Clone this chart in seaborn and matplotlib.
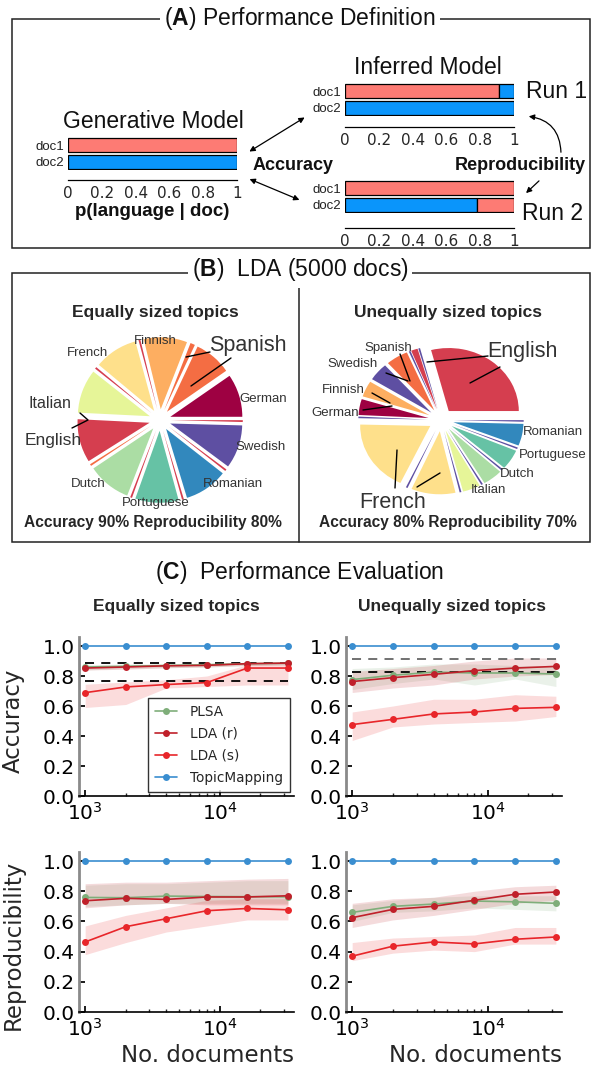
import numpy as np
import pandas as pd
import matplotlib
matplotlib.use("Agg")
import matplotlib.pyplot as plt
import seaborn as sns
from matplotlib.patches import Rectangle, FancyArrowPatch
from matplotlib.lines import Line2D

# ---------------- data ----------------
# Panel A: p(language | doc) segments (stacked left to right)
doc_names = ["doc1", "doc2"]
gen_doc1 = [1.0];          gen_doc1_lang = ["red"]
gen_doc2 = [1.0];          gen_doc2_lang = ["blue"]
run1_doc1 = [0.91, 0.09];  run1_doc1_lang = ["red", "blue"]
run1_doc2 = [1.0];         run1_doc2_lang = ["blue"]
run2_doc1 = [1.0];         run2_doc1_lang = ["red"]
run2_doc2 = [0.78, 0.22];  run2_doc2_lang = ["blue", "red"]
bar_ticks = [0, 0.2, 0.4, 0.6, 0.8, 1]
bar_tick_labels = ["0", "0.2", "0.4", "0.6", "0.8", "1"]

# Panel B: pies (counter-clockwise from 0 deg)
languages = ["German", "English", "Spanish", "Finnish", "French",
             "Italian", "Dutch", "Portuguese", "Romanian", "Swedish"]
eq_slices = ["German", "Spanish", "Spanish", "Finnish", "English", "French", "English",
             "Italian", "English", "Spanish", "Dutch", "English", "Portuguese", "English",
             "Romanian", "English", "Swedish", "English"]
eq_sizes = [9.2, 8.0, 1.0, 9.3, 0.4, 9.3, 0.4,
            9.4, 9.3, 0.4, 9.3, 0.4, 9.3, 0.4,
            9.3, 0.4, 9.3, 0.4]
uneq_slices = ["English", "Swedish", "English", "Swedish", "Spanish", "Swedish", "Finnish",
               "German", "Swedish", "French", "Swedish", "French", "Swedish", "Italian",
               "Swedish", "Dutch", "Swedish", "Portuguese", "Swedish", "Romanian", "Swedish"]
uneq_sizes = [28.5, 0.4, 1.5, 0.4, 5.0, 4.5, 4.0,
              4.0, 0.4, 18.0, 0.4, 10.0, 0.4, 4.0,
              0.4, 4.5, 0.4, 5.0, 0.4, 5.5, 0.4]

# Panel C: performance evaluation
n_docs = [1000, 2000, 4000, 8000, 16000, 32000]
methods = ["PLSA", "LDA (r)", "LDA (s)", "TopicMapping"]

acc_eq_plsa = [0.86, 0.865, 0.87, 0.875, 0.882, 0.885]
acc_eq_plsa_lo = [0.84, 0.85, 0.855, 0.86, 0.87, 0.875]
acc_eq_plsa_hi = [0.875, 0.88, 0.88, 0.885, 0.89, 0.895]
acc_eq_ldar = [0.853, 0.86, 0.868, 0.871, 0.882, 0.886]
acc_eq_ldar_lo = [0.84, 0.845, 0.855, 0.86, 0.87, 0.875]
acc_eq_ldar_hi = [0.865, 0.87, 0.875, 0.88, 0.89, 0.895]
acc_eq_ldas = [0.689, 0.727, 0.743, 0.756, 0.853, 0.853]
acc_eq_ldas_lo = [0.59, 0.61, 0.72, 0.73, 0.74, 0.74]
acc_eq_ldas_hi = [0.745, 0.76, 0.775, 0.80, 0.875, 0.88]
acc_eq_tm = [1.0, 1.0, 1.0, 1.0, 1.0, 1.0]
acc_eq_ref = [0.887, 0.767]

acc_un_plsa = [0.776, 0.805, 0.826, 0.82, 0.82, 0.813]
acc_un_plsa_lo = [0.71, 0.75, 0.78, 0.74, 0.78, 0.73]
acc_un_plsa_hi = [0.85, 0.86, 0.88, 0.88, 0.87, 0.87]
acc_un_ldar = [0.763, 0.789, 0.811, 0.836, 0.853, 0.864]
acc_un_ldar_lo = [0.69, 0.72, 0.74, 0.78, 0.80, 0.81]
acc_un_ldar_hi = [0.83, 0.85, 0.87, 0.90, 0.92, 0.92]
acc_un_ldas = [0.476, 0.511, 0.547, 0.56, 0.584, 0.591]
acc_un_ldas_lo = [0.37, 0.46, 0.48, 0.49, 0.50, 0.53]
acc_un_ldas_hi = [0.56, 0.60, 0.645, 0.645, 0.675, 0.665]
acc_un_tm = [1.0, 1.0, 1.0, 1.0, 1.0, 1.0]
acc_un_ref = [0.916, 0.825]

rep_eq_plsa = [0.759, 0.757, 0.768, 0.765, 0.764, 0.763]
rep_eq_plsa_lo = [0.70, 0.71, 0.72, 0.72, 0.72, 0.72]
rep_eq_plsa_hi = [0.84, 0.85, 0.85, 0.86, 0.87, 0.87]
rep_eq_ldar = [0.737, 0.753, 0.746, 0.762, 0.762, 0.77]
rep_eq_ldar_lo = [0.69, 0.71, 0.72, 0.71, 0.71, 0.71]
rep_eq_ldar_hi = [0.85, 0.86, 0.86, 0.87, 0.88, 0.885]
rep_eq_ldas = [0.464, 0.565, 0.618, 0.671, 0.686, 0.677]
rep_eq_ldas_lo = [0.38, 0.46, 0.53, 0.57, 0.61, 0.61]
rep_eq_ldas_hi = [0.57, 0.64, 0.69, 0.74, 0.75, 0.75]
rep_eq_tm = [1.0, 1.0, 1.0, 1.0, 1.0, 1.0]

rep_un_plsa = [0.66, 0.70, 0.715, 0.735, 0.73, 0.72]
rep_un_plsa_lo = [0.60, 0.66, 0.67, 0.69, 0.68, 0.67]
rep_un_plsa_hi = [0.71, 0.74, 0.76, 0.77, 0.77, 0.77]
rep_un_ldar = [0.625, 0.68, 0.70, 0.74, 0.78, 0.795]
rep_un_ldar_lo = [0.56, 0.61, 0.64, 0.68, 0.72, 0.74]
rep_un_ldar_hi = [0.72, 0.75, 0.76, 0.80, 0.83, 0.84]
rep_un_ldas = [0.37, 0.436, 0.464, 0.451, 0.482, 0.497]
rep_un_ldas_lo = [0.34, 0.39, 0.41, 0.40, 0.45, 0.45]
rep_un_ldas_hi = [0.46, 0.49, 0.50, 0.51, 0.56, 0.56]
rep_un_tm = [1.0, 1.0, 1.0, 1.0, 1.0, 1.0]

y_ticks = [0.0, 0.2, 0.4, 0.6, 0.8, 1.0]

# ---------------- style ----------------
sns.set_theme(style="white")
plt.rcParams['font.family'] = ['DejaVu Sans']
plt.rcParams['mathtext.fontset'] = 'custom'
plt.rcParams['mathtext.bf'] = 'Liberation Sans:bold'
plt.rcParams['mathtext.rm'] = 'Liberation Sans'
SANS = ['Liberation Sans', 'DejaVu Sans']

W, H = 600, 1069
fig = plt.figure(figsize=(6, 10.69), dpi=100)


def fx(x):
    return x / W


def fy(y):
    return 1 - y / H


def rect(x0, y0, x1, y1):
    return [x0 / W, 1 - y1 / H, (x1 - x0) / W, (y1 - y0) / H]


def ftext(x, y, s, **kw):
    kw.setdefault('family', SANS)
    kw.setdefault('ha', 'center')
    kw.setdefault('va', 'center')
    return fig.text(fx(x), fy(y), s, **kw)


def fline(pts, **kw):
    xs = [fx(p[0]) for p in pts]
    ys = [fy(p[1]) for p in pts]
    kw.setdefault('color', 'black')
    kw.setdefault('lw', 1.0)
    fig.add_artist(Line2D(xs, ys, transform=fig.transFigure, **kw))


def farrow(p0, p1, style='<|-|>', rad=0.0):
    a = FancyArrowPatch((fx(p0[0]), fy(p0[1])), (fx(p1[0]), fy(p1[1])),
                        transform=fig.transFigure, arrowstyle=style,
                        mutation_scale=8, lw=0.9, color='black',
                        connectionstyle=f"arc3,rad={rad}")
    fig.add_artist(a)


def panel_box(x0, y0, x1, y1, title_parts, ty):
    fig.add_artist(Rectangle((fx(x0), fy(y1)), (x1 - x0) / W, (y1 - y0) / H,
                             transform=fig.transFigure, fill=False,
                             ec='#222222', lw=1.1))
    ftext(300, ty, title_parts, fontsize=16.5, color='#111111',
          bbox=dict(fc='white', ec='none', pad=3))


# ---------------- Panel A ----------------
panel_box(12, 19, 590, 248, r"($\mathbf{A}$) Performance Definition", 18)

RED = "#fd7b74"
BLUE = "#0a95fb"
lang_color = {"red": RED, "blue": BLUE}


def bar_axes(r, docs_vals, docs_langs, axis_y_px, bottom_px):
    ax = fig.add_axes(r)
    for i, (vals, langs) in enumerate(zip(docs_vals, docs_langs)):
        left = 0.0
        for v, lg in zip(vals, langs):
            ax.barh(i, v, left=left, height=0.86, color=lang_color[lg],
                    edgecolor='black', linewidth=0.9)
            left += v
    ax.set_ylim(1.5, -0.5)
    ax.set_xlim(0, 1.0)
    ax.set_yticks([0, 1])
    ax.set_yticklabels(doc_names, fontsize=9.5, family=SANS, color='#222222')
    ax.tick_params(axis='y', length=0, pad=3)
    ax.set_xticks(bar_ticks)
    ax.set_xticklabels(bar_tick_labels, fontsize=7, family=SANS, color='#222222')
    ax.tick_params(axis='x', direction='inout', length=6, width=0.8, pad=1,
                   color='black')
    for s in ['top', 'right', 'left']:
        ax.spines[s].set_visible(False)
    ax.spines['bottom'].set_position(('outward', (axis_y_px - bottom_px) * 0.72))
    ax.spines['bottom'].set_linewidth(0.9)
    ax.spines['bottom'].set_color('black')
    ax.set_facecolor('none')
    ax.margins(x=0)
    return ax


bar_axes(rect(68, 137, 237, 170), [gen_doc1, gen_doc2], [gen_doc1_lang, gen_doc2_lang], 180, 170)
bar_axes(rect(345, 83, 514, 116), [run1_doc1, run1_doc2], [run1_doc1_lang, run1_doc2_lang], 127, 116)
bar_axes(rect(345, 180, 514, 213), [run2_doc1, run2_doc2], [run2_doc1_lang, run2_doc2_lang], 228, 213)

ftext(153, 121, "Generative Model", fontsize=16.5, color='#111111')
ftext(428, 67, "Inferred Model", fontsize=16.5, color='#111111')
ftext(557, 92, "Run 1", fontsize=16.5, color='#111111')
ftext(553, 213, "Run 2", fontsize=16.5, color='#111111')
ftext(152, 212, "p(language | doc)", fontsize=13.5, weight='bold', color='#111111')
ftext(293, 166, "Accuracy", fontsize=13, weight='bold', color='#111111')
ftext(520, 166, "Reproducibility", fontsize=13, weight='bold', color='#111111')

farrow((247, 153), (307, 116))
farrow((247, 178), (302, 201))
farrow((561, 155), (526, 116), style='-|>', rad=0.45)
farrow((541, 179), (524, 195), style='-|>')

# ---------------- Panel B ----------------
panel_box(12, 273, 590, 542, r"($\mathbf{B}$)  LDA (5000 docs)", 270)
fline([(299, 286), (299, 542)], color='#222222', lw=1.1)

spectral_hex = ["#9e0142", "#d53e4f", "#f46d43", "#fdae61", "#fee08b",
                "#e6f598", "#abdda4", "#66c2a5", "#3288bd", "#5e4fa2"]
pie_color = dict(zip(languages, sns.color_palette(spectral_hex)))

ftext(155, 313, "Equally sized topics", fontsize=12.5, weight='bold')
ftext(448, 313, "Unequally sized topics", fontsize=12.5, weight='bold')
ftext(153, 522, "Accuracy 90% Reproducibility 80%", fontsize=11.2, weight='bold')
ftext(448, 522, "Accuracy 80% Reproducibility 70%", fontsize=11.2, weight='bold')


def pie_axes(r, sizes, names, xr, yr, expl):
    ax = fig.add_axes(r)
    ax.pie(sizes, colors=[pie_color[n] for n in names], startangle=0,
           counterclock=True, explode=[expl] * len(sizes),
           wedgeprops=dict(linewidth=0))
    ax.set_aspect('auto')
    ax.set_xlim(-xr, xr)
    ax.set_ylim(-yr, yr)
    ax.axis('off')
    return ax


pie_axes(rect(70, 330, 250, 510), eq_sizes, eq_slices, 1.25, 1.25, 0.15)
pie_axes(rect(352, 340, 530, 500), uneq_sizes, uneq_slices, 1.27, 1.27, 0.18)

LBL = '#333333'
for name, x, y, fs in [("Finnish", 155, 341, 9.5), ("French", 88, 353, 9.5),
                       ("Spanish", 248, 345, 15.5), ("German", 263, 399, 9.5),
                       ("Italian", 50, 403, 11.5), ("English", 53, 440, 12.5),
                       ("Swedish", 261, 447, 9.5), ("Dutch", 88, 484, 9.5),
                       ("Romanian", 233, 484, 9.5), ("Portuguese", 156, 503, 9.5)]:
    ftext(x, y, name, fontsize=fs, color=LBL)
fline([(210, 352), (186, 357)])
fline([(231, 358), (191, 386)])
fline([(80, 413), (88, 420), (72, 428)])

for name, x, y, fs in [("Spanish", 388, 348, 9.5), ("Swedish", 353, 364, 9.5),
                       ("Finnish", 343, 390, 9.5), ("German", 335, 413, 9.5),
                       ("English", 522, 352, 15.5), ("Romanian", 553, 432, 9.5),
                       ("Portuguese", 553, 455, 9.5), ("Dutch", 517, 474, 9.5),
                       ("Italian", 488, 490, 9.5), ("French", 393, 502, 15.5)]:
    ftext(x, y, name, fontsize=fs, color=LBL)
fline([(488, 356), (427, 362)])
fline([(500, 367), (470, 383)])
fline([(400, 354), (410, 381)])
fline([(386, 373), (408, 381)])
fline([(372, 393), (390, 403)])
fline([(363, 410), (392, 406)])
fline([(397, 450), (395, 488)])
fline([(417, 487), (440, 473)])

# ---------------- Panel C ----------------
ftext(300, 573, r"($\mathbf{C}$)  Performance Evaluation", fontsize=16.5, color='#111111')
ftext(176, 607, "Equally sized topics", fontsize=12.5, weight='bold')
ftext(452, 607, "Unequally sized topics", fontsize=12.5, weight='bold')

mcolors = {"PLSA": "#7fae7a", "LDA (r)": "#c0202a", "LDA (s)": "#e8262a",
           "TopicMapping": "#3a8ed0"}


def perf_axes(r, series, bands, refs, refcols, ylabel, ylab_y, xlabel, legend):
    ax = fig.add_axes(r)
    rows = []
    for m, vals in zip(methods, series):
        for n, v in zip(n_docs, vals):
            rows.append({"n": n, "value": v, "method": m})
    df = pd.DataFrame(rows)
    for m, (lo, hi) in zip(methods[:3], bands):
        ax.fill_between(n_docs, lo, hi, color=mcolors[m], alpha=0.16, lw=0)
    for ref, col in zip(refs, refcols):
        ax.plot([n_docs[0], n_docs[-1]], [ref, ref], ls=(0, (5, 4)), color=col, lw=1.3)
    sns.lineplot(data=df, x="n", y="value", hue="method", hue_order=methods,
                 palette=mcolors, marker='o', markersize=5, markeredgewidth=0,
                 lw=1.2, ax=ax, legend=legend, errorbar=None)
    ax.set_xscale('log')
    ax.set_xlim(900, 35500)
    ax.set_ylim(0, 1.06)
    ax.set_yticks(y_ticks)
    ax.set_yticklabels([f"{t:.1f}" for t in y_ticks])
    ax.tick_params(axis='both', which='major', direction='in', length=4,
                   labelsize=14.5, pad=3, left=True, bottom=True, colors='black')
    ax.tick_params(axis='x', which='minor', direction='in', length=2.5, bottom=True)
    ax.tick_params(axis='x', which='major', pad=4)
    for s in ['top', 'right']:
        ax.spines[s].set_visible(False)
    ax.spines['left'].set_color('#8a8a8a')
    ax.spines['left'].set_linewidth(2.0)
    ax.spines['bottom'].set_color('black')
    ax.spines['bottom'].set_linewidth(1.2)
    ax.set_ylabel(ylabel, fontsize=16.5)
    ax.yaxis.set_label_coords(-0.25, ylab_y)
    ax.set_xlabel(xlabel, fontsize=16.5, loc='right', labelpad=3)
    if legend:
        ax.legend(loc='lower right', bbox_to_anchor=(1.0, 0.0), fontsize=9.8,
                  frameon=True, fancybox=False, edgecolor='black',
                  handlelength=1.6, handletextpad=1.0, borderpad=0.5,
                  labelspacing=0.6, borderaxespad=0.3)
        ax.get_legend().get_frame().set_linewidth(1.0)
    return ax


perf_axes(rect(79, 637, 294, 796),
          [acc_eq_plsa, acc_eq_ldar, acc_eq_ldas, acc_eq_tm],
          [(acc_eq_plsa_lo, acc_eq_plsa_hi), (acc_eq_ldar_lo, acc_eq_ldar_hi),
           (acc_eq_ldas_lo, acc_eq_ldas_hi)],
          acc_eq_ref, ['black', 'black'], "Accuracy", 0.47, "", True)
perf_axes(rect(346, 637, 562, 796),
          [acc_un_plsa, acc_un_ldar, acc_un_ldas, acc_un_tm],
          [(acc_un_plsa_lo, acc_un_plsa_hi), (acc_un_ldar_lo, acc_un_ldar_hi),
           (acc_un_ldas_lo, acc_un_ldas_hi)],
          acc_un_ref, ['#666666', 'black'], "", 0.47, "", False)
perf_axes(rect(79, 852, 294, 1012),
          [rep_eq_plsa, rep_eq_ldar, rep_eq_ldas, rep_eq_tm],
          [(rep_eq_plsa_lo, rep_eq_plsa_hi), (rep_eq_ldar_lo, rep_eq_ldar_hi),
           (rep_eq_ldas_lo, rep_eq_ldas_hi)],
          [], [], "Reproducibility", 0.42, "No. documents", False)
perf_axes(rect(346, 852, 562, 1012),
          [rep_un_plsa, rep_un_ldar, rep_un_ldas, rep_un_tm],
          [(rep_un_plsa_lo, rep_un_plsa_hi), (rep_un_ldar_lo, rep_un_ldar_hi),
           (rep_un_ldas_lo, rep_un_ldas_hi)],
          [], [], "", 0.42, "No. documents", False)

fig.savefig("out.png", dpi=100)
